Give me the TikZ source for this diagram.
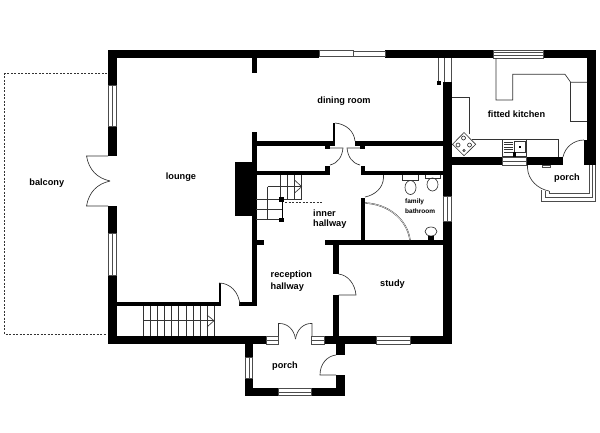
\documentclass[tikz,border=0pt]{standalone}
\usepackage{fontspec}
\setmainfont{Liberation Sans}
\tikzset{
  wall/.style = {fill = black},
  thin line/.style = {draw = black!80, line width = 0.65pt},
  pane/.style = {draw = black!70, line width = 0.55pt, fill = white},
  room/.style = {font = \bfseries\fontsize{9.2}{11}\selectfont, align = center, inner sep = 0pt},
  hall room/.style = {room, align = left, anchor = west},
  small room/.style = {room, align = left, anchor = west, font = \bfseries\fontsize{6.5}{10.3}\selectfont}
}
\begin{document}
\begin{tikzpicture}[x = 1pt, y = -1pt]
\useasboundingbox (0, 0) rectangle (600, 432);
\draw[draw = black!80, line width = 0.5pt, dash pattern = on 2pt off 1.5pt] (107, 73.5) -- (4.5, 73.5) -- (4.5, 334) -- (107, 334);
% outer walls
\fill[wall] (107.5, 49.5) rectangle (319, 58);
\fill[wall] (385, 49.5) rectangle (493, 58);
\fill[wall] (543, 49.5) rectangle (596, 58);
\fill[wall] (587, 49.5) rectangle (596, 165);
\fill[wall] (107.5, 49.5) rectangle (117, 85);
\fill[wall] (107.5, 126) rectangle (117, 156);
\fill[wall] (107.5, 206) rectangle (116.5, 233);
\fill[wall] (107.5, 275) rectangle (116.5, 344);
\fill[wall] (107.5, 336) rectangle (266, 344);
\fill[wall] (324, 336) rectangle (376, 344);
\fill[wall] (410, 336) rectangle (452, 344);
\fill[wall] (443, 82) rectangle (452, 196.5);
\fill[wall] (443, 221.5) rectangle (452, 344);
\fill[wall] (452, 156.5) rectangle (502.5, 165);
\fill[wall] (526.5, 156.5) rectangle (563, 165);
\fill[wall] (584, 156.5) rectangle (596, 165);
\fill[wall] (584, 140) rectangle (587, 157);
% porch walls
\fill[wall] (244.5, 344) rectangle (252.5, 357);
\fill[wall] (244.5, 378) rectangle (252.5, 396);
\fill[wall] (244.5, 387.5) rectangle (278, 396);
\fill[wall] (311, 387.5) rectangle (344.5, 396);
\fill[wall] (336, 344) rectangle (344.5, 355);
\fill[wall] (336, 375) rectangle (344.5, 396);
% inner walls
\fill[wall] (252, 58) rectangle (256.5, 73);
\fill[wall] (252, 132) rectangle (256.5, 306);
\fill[wall] (234.5, 162) rectangle (256.5, 216);
\fill[wall] (117, 302) rectangle (221, 306);
\fill[wall] (219, 283) rectangle (221, 306);
\fill[wall] (239, 302) rectangle (256.5, 306);
\fill[wall] (256, 141) rectangle (333, 145.5);
\fill[wall] (333, 123) rectangle (335, 145.5);
\fill[wall] (355, 141) rectangle (443, 145.5);
\fill[wall] (325, 145) rectangle (330, 149);
\fill[wall] (360, 145) rectangle (365, 149);
\fill[wall] (256, 170.5) rectangle (329.5, 175);
\fill[wall] (325, 165.5) rectangle (329.5, 175);
\fill[wall] (360.5, 165.5) rectangle (365, 175);
\fill[wall] (365, 170.5) rectangle (443, 175);
\fill[wall] (256, 240) rectangle (264, 245);
\fill[wall] (324.5, 240) rectangle (443, 245);
\fill[wall] (361, 197.5) rectangle (365, 240);
\fill[wall] (333, 245) rectangle (338.5, 274);
\fill[wall] (333, 295) rectangle (338.5, 336);
% windows
\draw[pane] (108, 85) rectangle (116.5, 126);
\draw[pane] (112, 85) -- (112, 126);
\draw[pane] (108, 233) rectangle (116, 275);
\draw[pane] (112, 233) -- (112, 275);
\draw[pane] (319, 50.5) rectangle (353, 56.5);
\draw[pane] (353, 51) rectangle (385, 56);
\draw[pane] (493, 50) rectangle (543, 58);
\foreach \i in {52.5, 55}
    {\draw[pane] (493, \i) -- (543, \i);};
\draw[pane] (502.5, 157) rectangle (526.5, 165);
\draw[pane] (502.5, 161) -- (526.5, 161);
\draw[pane] (443.5, 196.5) rectangle (451.5, 221.5);
\draw[pane] (447.5, 196.5) -- (447.5, 221.5);
\draw[pane] (438.5, 58) -- (438.5, 82);
\draw[pane] (444, 58) -- (444, 82);
\draw[pane] (451.5, 58) -- (451.5, 82);
\draw[pane] (266, 336.5) rectangle (278.5, 344);
\draw[pane] (266, 340) -- (278.5, 340);
\draw[pane] (311.5, 336.5) rectangle (324, 344);
\draw[pane] (311.5, 340) -- (324, 340);
\draw[pane] (376, 336.5) rectangle (410, 344);
\draw[pane] (376, 340) -- (410, 340);
\draw[pane] (245, 357) rectangle (252.5, 378);
\draw[pane] (249, 357) -- (249, 378);
\draw[pane] (278, 388) rectangle (311, 395.5);
\draw[pane] (278, 392) -- (311, 392);
\draw[pane, fill = none] (541.5, 190) -- (541.5, 201) -- (595.5, 201) -- (595.5, 165);
\draw[pane, fill = none] (545, 191) -- (545, 197) -- (592, 197) -- (592, 165);
\draw[pane, fill = none] (549, 191) -- (549, 193) -- (589, 193) -- (589, 165);
\draw[pane] (542, 165) rectangle (550, 167);
% doors
\draw[thin line] (108, 156) -- (86.5, 156) .. controls (89, 170) and (97, 178) .. (110, 181);
\draw[thin line] (108, 206) -- (86.5, 206) .. controls (89, 192) and (97, 184) .. (110, 181);
\draw[thin line] (219, 283) .. controls (230, 283) and (239, 292) .. (240, 305);
\draw[thin line] (335, 123) .. controls (346, 124) and (354, 131) .. (355, 141);
\draw[thin line] (330, 148) -- (343, 148) .. controls (342, 157) and (338, 163) .. (330, 165);
\draw[thin line] (360, 148) -- (347, 148) .. controls (348, 157) and (352, 163) .. (360, 165);
\draw[thin line] (383.5, 175) -- (383.5, 178) .. controls (383, 188) and (375, 195) .. (365, 197);
\draw[thin line, double = white, double distance = 0.5pt, line width = 0.4pt] (365, 203) .. controls (388, 204) and (407, 219) .. (410, 240);
\draw[thin line] (338.5, 274) .. controls (348, 275) and (355, 284) .. (356, 295) -- (338.5, 295);
\draw[thin line] (278.5, 336) -- (278.5, 323.5) .. controls (287, 323) and (294, 329) .. (295.5, 339);
\draw[thin line] (312, 336) -- (312, 323.5) .. controls (304, 323) and (297, 329) .. (295.5, 339);
\draw[thin line] (336, 375) -- (320, 375) .. controls (320, 364) and (327, 356) .. (336, 355);
\draw[thin line] (584, 140) .. controls (574, 140) and (565, 147) .. (563, 157);
\draw[thin line] (527.5, 165) -- (527.5, 168) .. controls (528, 180) and (538, 189) .. (549, 191);
% stairs
\foreach \i in {0, ..., 10}
    {\draw[thin line] (143.3 + 7.1 * \i, 306) -- (143.3 + 7.1 * \i, 336);};
\draw[thin line] (143.3, 320.7) -- (214, 320.7);
\draw[thin line] (207, 315) -- (214, 320.7) -- (207, 327);
\foreach \i in {280.7, 287.5, 294.5, 301.7}
    {\draw[thin line] (\i, 175) -- (\i, 199.3);};
\draw[thin line] (256, 199.3) -- (301.7, 199.3);
\draw[thin line] (256, 209.3) -- (282, 209.3);
\draw[thin line] (256, 219.5) -- (282, 219.5);
\draw[thin line] (267.7, 186.7) -- (301.7, 186.7);
\draw[thin line] (267.7, 186.7) -- (267.7, 220);
\draw[thin line] (294.5, 180) -- (301.7, 186.7) -- (294.5, 193);
\draw[line width = 1pt] (282.5, 199.3) -- (282.5, 219.5);
\fill[wall] (279, 197.3) rectangle (283.5, 202);
\fill[wall] (279, 217.5) rectangle (283.5, 222);
\fill[wall] (436.5, 80.5) rectangle (441, 85);
\draw[draw = black!80, dash pattern = on 2pt off 1.5pt, line width = 0.5pt] (285, 202.5) -- (322, 202.5);
% bathroom
\draw[thin line] (402.7, 175) -- (402.7, 180.5) -- (418.3, 180.5) -- (418.3, 175);
\draw[thin line] (410.5, 187.5) ellipse [x radius = 5.5pt, y radius = 7pt];
\draw[thin line] (425, 175) -- (425, 178) -- (440.7, 178) -- (440.7, 175);
\draw[thin line] (432.5, 184.5) ellipse [x radius = 5.5pt, y radius = 6.5pt];
\draw[thin line] (431, 231.5) ellipse [x radius = 6pt, y radius = 4.5pt];
\fill[wall] (428, 236) rectangle (434, 240);
% kitchen
\draw[thin line] (496, 58) -- (496, 100) -- (512.7, 100) -- (512.7, 74.3) -- (565, 74.3) -- (570.7, 82.3) -- (587, 82.3);
\draw[thin line] (570.7, 82.3) -- (570.7, 121.7) -- (587, 121.7);
\draw[thin line] (452, 97.3) -- (469.3, 97.3) -- (469.3, 134);
\draw[thin line] (472, 139.3) -- (558.3, 139.3) -- (558.3, 157);
\draw[thin line, fill = white] (452.5, 144.3) -- (464, 132.5) -- (475.7, 144.3) -- (464, 155.7) -- cycle;
\foreach \i/\j in {458/145, 469.5/145, 463.5/138}
    {\draw[thin line] (\i, \j) circle (2pt);};
\draw[thin line] (464, 150.5) circle (1.2pt);
\draw[thin line] (502.7, 139.3) rectangle (526, 156.5);
\foreach \i in {142, 144.5, 147, 149.5, 152}
    {\draw[thin line] (504, \i) -- (513, \i);};
\draw[thin line] (514.5, 141.5) rectangle (525, 152);
\fill[wall] (518.5, 145.5) rectangle (520.5, 147.5);
\fill[wall] (512.5, 151.5) rectangle (516, 156.5);
% labels
\node[room] (balconylabel) at (46.8, 183.5) {balcony};
\node[room] (loungelabel) at (181, 177) {lounge};
\node[room] (diningroomlabel) at (344, 101) {dining room};
\node[room] (kitchenlabel) at (516.5, 114) {fitted kitchen};
\node[room] (kitchenporchlabel) at (567, 178) {porch};
\node[small room] (bathroomlabel) at (405, 206) {family\\bathroom};
\node[hall room, font = \bfseries\fontsize{9.2}{10.7}\selectfont] (innerlabel) at (313, 219) {inner\\hallway};
\node[hall room, font = \bfseries\fontsize{9.2}{12.3}\selectfont] (receptionlabel) at (270.5, 281) {reception\\hallway};
\node[room] (studylabel) at (392.5, 284.5) {study};
\node[room] (porchlabel) at (285, 366) {porch};
\end{tikzpicture}
\end{document}
